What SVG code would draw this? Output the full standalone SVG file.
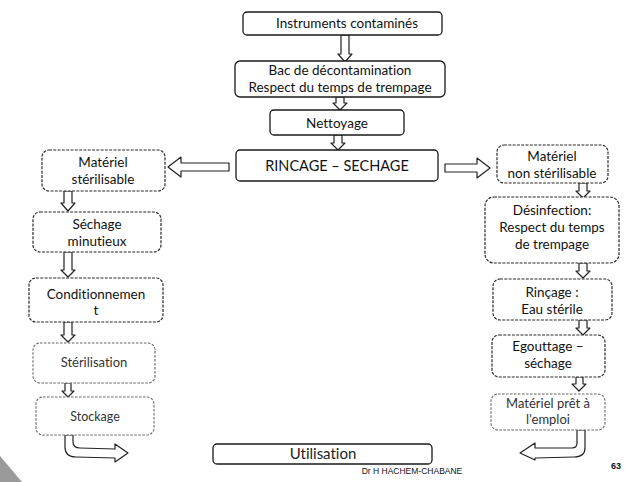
<svg xmlns="http://www.w3.org/2000/svg" width="635" height="482" viewBox="0 0 635 482">
<style>
  .box{fill:#fff;stroke:#1a1a1a;stroke-width:1.3}
  .dbox{fill:#fff;stroke:#2a2a2a;stroke-width:1.2;stroke-dasharray:3 1.3}
  .lbox{fill:#fff;stroke:#666;stroke-width:1.1;stroke-dasharray:2.5 1.5}
  .arr{fill:#fff;stroke:#222;stroke-width:1.2;stroke-linejoin:round}
  text{font-family:Lato,"Open Sans","Liberation Sans",sans-serif;font-size:13.5px;fill:#111;text-anchor:middle;font-variant-ligatures:none}
  .light{fill:#333}
</style>
<rect width="635" height="482" fill="#fff"/>
<polygon points="0,456 22,482 0,482" fill="#9a9a9a"/>

<g id="connectors">
  <!-- top vertical arrows -->
  <polygon class="arr" points="341,35 349,35 349,54 352,54 345,62 338,54 341,54"/>
  <polygon class="arr" points="336,97 344,97 344,103 347,103 340,110 333,103 336,103"/>
  <polygon class="arr" points="334,135 342,135 342,143 345,143 338,150 331,143 334,143"/>
  <!-- horizontal arrows -->
  <polygon class="arr" points="229,163 181,163 181,157 168,167 181,177 181,171 229,171"/>
  <polygon class="arr" points="445,164 477,164 477,158 490,168 477,178 477,172 445,172"/>
  <!-- left column -->
  <polygon class="arr" points="64,191 72,191 72,203 75,203 68,211 61,203 64,203"/>
  <polygon class="arr" points="64,252 72,252 72,270 75,270 68,277 61,270 64,270"/>
  <polygon class="arr" points="64,322 72,322 72,335 75,335 68,342 61,335 64,335"/>
  <polygon class="arr" points="65,383 71,383 71,391 74,391 68,397 62,391 65,391"/>
  <!-- right column -->
  <polygon class="arr" points="579,183 587,183 587,191 590,191 583,198 576,191 579,191"/>
  <polygon class="arr" points="579,263 587,263 587,271 590,271 583,278 576,271 579,271"/>
  <polygon class="arr" points="579,320 587,320 587,328 590,328 583,335 576,328 579,328"/>
  <polygon class="arr" points="576,377 583,377 583,384 586,384 579,391 572,384 576,384"/>
  <!-- bent arrows -->
  <path class="arr" d="M65,435 L65,447 Q65,457 76,457 L115,458 L115,462 L128,453 L115,444 L115,449 L80,448 Q73,448 73,442 L73,435 Z"/>
  <path class="arr" d="M585,430 L585,448 Q585,457 574,457 L535,458 L535,460 L520,453 L535,443 L535,448 L572,448 Q577,448 577,443 L577,430 Z"/>
</g>

<g id="n1"><rect class="box" x="243" y="12" width="199" height="23" rx="4"/><text x="347" y="28">Instruments contaminés</text></g>
<g id="n2"><rect class="box" x="235" y="61" width="210" height="36" rx="5"/><text x="340" y="75">Bac de décontamination</text><text x="340" y="92">Respect du temps de trempage</text></g>
<g id="n3"><rect class="box" x="270" y="110" width="134" height="25" rx="4"/><text x="337" y="128">Nettoyage</text></g>
<g id="n4"><rect class="box" x="236" y="150" width="202" height="31" rx="4"/><text x="337" y="171" style="font-size:14.5px">RINCAGE – SECHAGE</text></g>

<g id="n5"><rect class="dbox" x="42" y="150" width="123" height="41" rx="7"/><text x="103" y="167">Matériel</text><text x="103" y="184">stérilisable</text></g>
<g id="n6"><rect class="dbox" x="33" y="212" width="128" height="40" rx="7"/><text x="97" y="229">Séchage</text><text x="97" y="246">minutieux</text></g>
<g id="n7"><rect class="dbox" x="29" y="278" width="134" height="44" rx="7"/><text x="96" y="299">Conditionnemen</text><text x="96" y="315">t</text></g>
<g id="n8"><rect class="lbox" x="33" y="343" width="122" height="40" rx="7"/><text class="light" x="94" y="367" style="font-size:13px">Stérilisation</text></g>
<g id="n9"><rect class="lbox" x="36" y="397" width="118" height="38" rx="7"/><text class="light" x="95" y="421" style="font-size:12.5px">Stockage</text></g>

<g id="n10"><rect class="dbox" x="497" y="145" width="111" height="38" rx="7"/><text x="552" y="161">Matériel</text><text x="552" y="178">non stérilisable</text></g>
<g id="n11"><rect class="dbox" x="485" y="197" width="134" height="66" rx="9"/><text x="552" y="215">Désinfection:</text><text x="552" y="232">Respect du temps</text><text x="552" y="249">de trempage</text></g>
<g id="n12"><rect class="dbox" x="493" y="279" width="119" height="41" rx="7"/><text x="552" y="297">Rinçage :</text><text x="552" y="314">Eau stérile</text></g>
<g id="n13"><rect class="dbox" x="492" y="335" width="113" height="42" rx="7"/><text x="548" y="351">Egouttage –</text><text x="548" y="368">séchage</text></g>
<g id="n14"><rect class="lbox" x="491" y="394" width="114" height="36" rx="7"/><text class="light" x="548" y="408" style="font-size:13px">Matériel prêt à</text><text class="light" x="548" y="424" style="font-size:13px">l'emploi</text></g>

<g id="n15"><rect class="box" x="213" y="444" width="219" height="20" rx="4"/><text x="323" y="459" style="font-size:15px;fill:#222">Utilisation</text></g>

<text x="412" y="474" style="font-size:8.5px;font-family:'Liberation Sans',Arial,sans-serif">Dr H  HACHEM-CHABANE</text>
<text x="616" y="469" style="font-size:9px;font-weight:bold;font-family:'Liberation Sans',Arial,sans-serif">63</text>
</svg>
